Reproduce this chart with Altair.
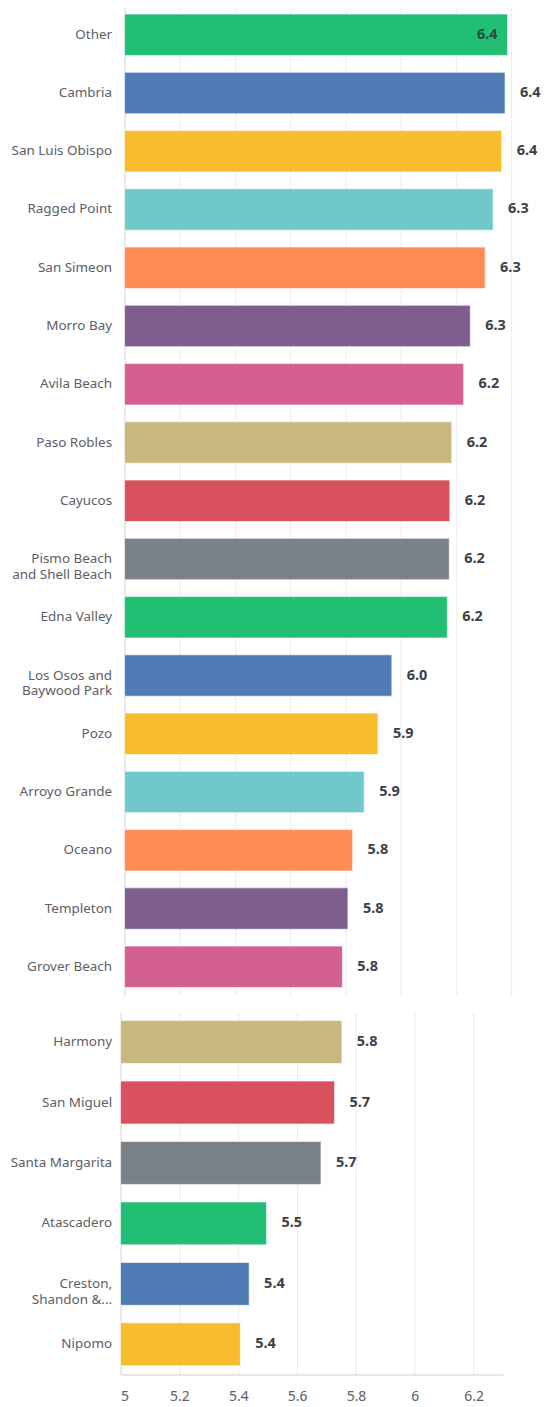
import altair as alt
import pandas as pd

top_labels = ["Other", "Cambria", "San Luis Obispo", "Ragged Point", "San Simeon",
              "Morro Bay", "Avila Beach", "Paso Robles", "Cayucos",
              "Pismo Beach|and Shell Beach", "Edna Valley", "Los Osos and|Baywood Park",
              "Pozo", "Arroyo Grande", "Oceano", "Templeton", "Grover Beach"]
top_values = [6.387, 6.378, 6.366, 6.335, 6.306, 6.252, 6.228, 6.185, 6.178,
              6.176, 6.169, 5.968, 5.918, 5.868, 5.826, 5.809, 5.789]

bottom_labels = ["Harmony", "San Miguel", "Santa Margarita", "Atascadero",
                 "Creston,|Shandon &...", "Nipomo"]
bottom_values = [5.752, 5.727, 5.681, 5.496, 5.437, 5.407]

palette = ["#21BF73", "#507CB6", "#F7BD2D", "#70C8CB", "#FF8B55",
           "#7D5E8F", "#D36090", "#C8B77E", "#D9515F", "#7A8188"]

top_ticks = [5.0, 5.2, 5.4, 5.6, 5.8, 6.0, 6.2, 6.4]
bottom_ticks = [5.0, 5.2, 5.4, 5.6, 5.8, 6.0, 6.2]

all_labels = top_labels + bottom_labels
all_colors = [palette[i % len(palette)] for i in range(len(all_labels))]

df_top = pd.DataFrame({"label": top_labels, "value": top_values})
df_bottom = pd.DataFrame({"label": bottom_labels, "value": bottom_values})

color_scale = alt.Scale(domain=all_labels, range=all_colors)
grid_color = {"condition": {"test": "datum.value === 5", "value": "#d4d4d4"}, "value": "#ececec"}

FONT = "Noto Sans"


def y_enc(labels):
    return alt.Y("label:N", sort=labels,
                 scale=alt.Scale(paddingInner=0.29, paddingOuter=0.145),
                 axis=alt.Axis(title=None, labelExpr="split(datum.label, '|')",
                               ticks=False, domain=False, labelPadding=9,
                               labelFontSize=13.5, labelColor="#5c6066",
                               labelFont=FONT, labelLineHeight=16, labelLimit=200,
                               minExtent=113, maxExtent=113))


def panel(df, labels, x_scale, x_axis, width, height, inside_threshold):
    base = alt.Chart(df).encode(y=y_enc(labels))
    bars = base.mark_bar(stroke="white", strokeWidth=1, strokeOpacity=0.6).encode(
        x=alt.X("value:Q", scale=x_scale, axis=x_axis),
        x2=alt.datum(5.0),
        color=alt.Color("label:N", scale=color_scale, legend=None),
    )
    text_out = base.mark_text(align="left", baseline="middle", dx=15, fontSize=14.5,
                              fontWeight="bold", color="#3c4148", font=FONT).encode(
        x="value:Q", text=alt.Text("value:Q", format=".1f")
    ).transform_filter(f"datum.value < {inside_threshold}")
    text_in = base.mark_text(align="right", baseline="middle", dx=-10, fontSize=14.5,
                             fontWeight="bold", color="#2c4a3a", font=FONT).encode(
        x="value:Q", text=alt.Text("value:Q", format=".1f")
    ).transform_filter(f"datum.value >= {inside_threshold}")
    return alt.layer(bars, text_out, text_in).properties(width=width, height=height)


top = panel(
    df_top, top_labels,
    alt.Scale(domain=[5, 6.4], range=[4, 392], nice=False, zero=False),
    alt.Axis(title=None, labels=False, ticks=False, domain=False, grid=True,
             values=top_ticks, gridColor=grid_color, minExtent=0, maxExtent=0),
    392, 994, 6.38,
)

bottom = panel(
    df_bottom, bottom_labels,
    alt.Scale(domain=[5, 6.3], nice=False, zero=False),
    alt.Axis(title=None, ticks=False, domain=True, domainColor="#cfcfcf", grid=True,
             values=bottom_ticks, gridColor=grid_color, labelPadding=15,
             labelFontSize=14, labelColor="#5c6066", labelFont=FONT,
             format="~g"),
    384, 364, 99,
)

chart = alt.vconcat(top, bottom, spacing=16).resolve_scale(
    x="independent", y="independent", color="shared"
).properties(
    padding={"top": -5, "bottom": 0, "left": 0, "right": 0}, background="white"
).configure_view(stroke=None)

chart.save("out.html", embed_options={"renderer": "svg", "actions": False})
